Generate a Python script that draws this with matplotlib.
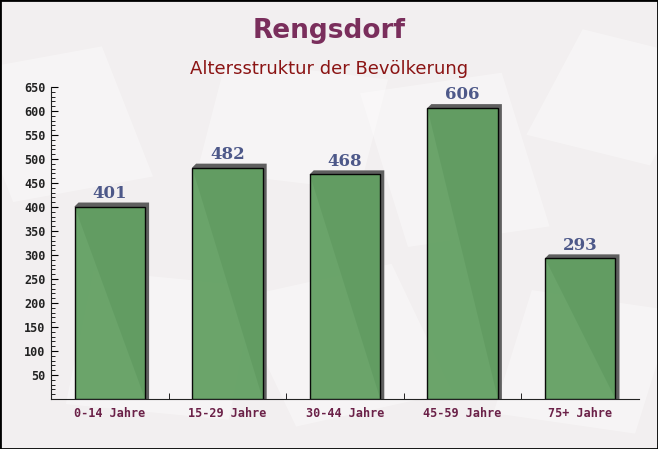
#!/usr/bin/env python3

import matplotlib
matplotlib.use('Agg')
import matplotlib.pyplot as plt
from matplotlib.patches import Polygon, Rectangle
from matplotlib.ticker import MultipleLocator

categories = ['0-14 Jahre', '15-29 Jahre', '30-44 Jahre', '45-59 Jahre', '75+ Jahre']
values = [401, 482, 468, 606, 293]

BG = '#f2eff0'
BAR = '#63a063'
SHADOW = '#5f5f5f'

fig = plt.figure(figsize=(6.58, 4.49), dpi=100)
fig.patch.set_facecolor(BG)

# faint envelope-like shapes in the background
bg_ax = fig.add_axes([0, 0, 1, 1], zorder=0)
bg_ax.set_axis_off()
bg_ax.set_xlim(0, 1)
bg_ax.set_ylim(0, 1)
for x, y, w, h, a in [(0.02, 0.55, 0.22, 0.30, 15), (0.30, 0.62, 0.25, 0.25, -10),
                      (0.62, 0.45, 0.22, 0.35, 12), (0.80, 0.70, 0.20, 0.25, -20),
                      (0.10, 0.10, 0.25, 0.30, -8), (0.45, 0.05, 0.25, 0.30, 18),
                      (0.75, 0.08, 0.22, 0.28, -12)]:
    bg_ax.add_patch(Rectangle((x, y), w, h, angle=a, facecolor='white', alpha=0.35,
                              edgecolor='none'))

ax = fig.add_axes([51 / 658, 1 - 399 / 449, 588 / 658, 312 / 449], zorder=1)
ax.set_facecolor('none')

xs = list(range(len(categories)))
width = 0.6
ax.set_xlim(-0.5, len(categories) - 0.5)
ax.set_ylim(0, 650)

# shadow offsets in data units (approx 4 px)
dx = 4 / 117.6
dy = 4 / 0.48
for x, v in zip(xs, values):
    left = x - width / 2
    right = x + width / 2
    shadow = Polygon([(left, v), (left + dx, v + dy), (right + dx, v + dy),
                      (right + dx, 0), (right, 0)], closed=True,
                     facecolor=SHADOW, edgecolor='none', zorder=2)
    ax.add_patch(shadow)

ax.bar(xs, values, width=width, color=BAR, alpha=0.95, edgecolor='black',
       linewidth=1, zorder=3)

for x, v in zip(xs, values):
    ax.text(x, v + 10, str(v), ha='center', va='bottom', fontsize=12,
            fontweight='bold', family='DejaVu Serif', color='#4d5889', zorder=4)

ax.set_yticks(list(range(50, 651, 50)))
ax.yaxis.set_minor_locator(MultipleLocator(10))
ax.set_xticks(xs)
ax.set_xticklabels(categories)
ax.set_xticks([x + 0.5 for x in xs[:-1]], minor=True)

for lab in ax.get_yticklabels():
    lab.set_family('DejaVu Sans Mono')
    lab.set_fontweight('bold')
    lab.set_fontsize(8.5)
    lab.set_color('#222222')
for lab in ax.get_xticklabels():
    lab.set_family('DejaVu Sans Mono')
    lab.set_fontweight('bold')
    lab.set_fontsize(8.5)
    lab.set_color('#6b2148')

ax.tick_params(axis='y', which='major', length=5, direction='in', pad=4)
ax.tick_params(axis='y', which='minor', length=3, direction='in')
ax.tick_params(axis='x', which='major', length=0, pad=6)
ax.tick_params(axis='x', which='minor', length=4, direction='in')

for side in ['top', 'right']:
    ax.spines[side].set_visible(False)
ax.spines['left'].set_color('#222222')
ax.spines['bottom'].set_color('#222222')

fig.text(0.5, 1 - 31 / 449, 'Rengsdorf', ha='center', va='center', fontsize=19,
         fontweight='bold', color='#7a2e5c', zorder=5)
fig.text(0.5, 1 - 69 / 449, 'Altersstruktur der Bevölkerung', ha='center', va='center',
         fontsize=13, color='#8b1414', zorder=5)

# thin frame around the picture
fig.patches.append(Rectangle((0, 0), 1, 1, transform=fig.transFigure, fill=False,
                             edgecolor='black', linewidth=2, zorder=10))

fig.savefig('out.png', dpi=100, facecolor=fig.get_facecolor())
